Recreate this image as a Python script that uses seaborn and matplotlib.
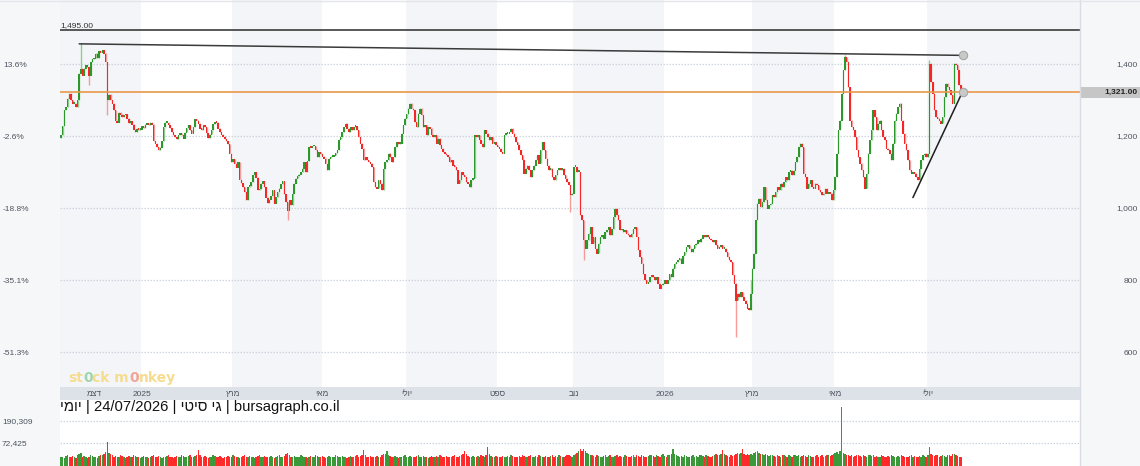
import re
import numpy as np
import pandas as pd
import matplotlib
matplotlib.use("Agg")
import matplotlib.pyplot as plt
import seaborn as sns
from matplotlib.patches import Rectangle
from matplotlib.lines import Line2D
from matplotlib.ticker import NullLocator, NullFormatter
from matplotlib.transforms import blended_transform_factory

# ---------------- data (daily closes) ----------------
first_open = 1195
close_nov24_feb25 = [
    1203, 1229, 1272, 1281, 1305, 1319, 1300, 1291, 1291, 1281, 1300, 1374, 1388, 1369, 1388,
    1397, 1393, 1369, 1406, 1414, 1416, 1430, 1418, 1436, 1432, 1439, 1430, 1406, 1300, 1316,
    1300, 1291, 1272, 1244, 1238, 1266, 1260, 1254, 1258, 1262, 1249, 1236, 1242, 1232, 1219,
    1212, 1221, 1217, 1219, 1229, 1223, 1232, 1235, 1231, 1238, 1232, 1186, 1180, 1170, 1161,
    1169, 1186, 1226, 1238, 1238, 1231, 1223, 1212, 1203, 1198, 1192, 1203, 1207, 1203, 1194,
    1210, 1223, 1231, 1217, 1207, 1226, 1247, 1244, 1235, 1221, 1217, 1231, 1225, 1208, 1195,
    1205, 1217, 1234, 1240, 1238, 1221, 1212, 1205, 1199, 1192, 1186, 1179, 1152, 1129, 1136,
]
close_mar25_jun25 = [
    1124, 1113, 1129, 1080, 1070, 1059, 1045, 1022, 1059, 1062, 1073, 1092, 1101, 1085, 1050,
    1054, 1069, 1076, 1059, 1030, 1015, 1024, 1033, 1050, 1013, 1031, 1045, 1055, 1067, 1076,
    1039, 1018, 994, 1022, 1008, 1041, 1069, 1082, 1089, 1094, 1101, 1110, 1129, 1101, 1131,
    1170, 1169, 1172, 1172, 1161, 1143, 1156, 1150, 1144, 1138, 1124, 1106, 1138, 1144, 1144,
    1146, 1154, 1161, 1191, 1198, 1212, 1226, 1235, 1221, 1212, 1226, 1217, 1226, 1228, 1217,
    1198, 1180, 1166, 1133, 1143, 1133, 1129, 1124, 1115, 1073, 1059, 1055, 1078, 1069, 1050,
    1110, 1129, 1133, 1152, 1143, 1129, 1143, 1170, 1184, 1178, 1180, 1207, 1231, 1249, 1261,
]
close_jul25_oct25 = [
    1277, 1291, 1277, 1272, 1240, 1226, 1263, 1277, 1258, 1226,
    1231, 1203, 1226, 1221, 1203, 1198, 1203, 1180, 1194, 1175,
    1166, 1156, 1152, 1147, 1143, 1129, 1133, 1119, 1115, 1106,
    1069, 1078, 1101, 1092, 1087, 1073, 1069, 1059, 1078, 1082,
    1203, 1198, 1203, 1189, 1180, 1170, 1217, 1207, 1198, 1189,
    1198, 1180, 1184, 1175, 1170, 1166, 1156, 1152, 1203, 1207,
    1207, 1212, 1221, 1207, 1198, 1184, 1175, 1161, 1147, 1133,
    1096, 1110, 1119, 1106, 1087, 1106, 1119, 1133, 1147, 1124,
    1161, 1184, 1161, 1138, 1119, 1106, 1110, 1087, 1078, 1092,
    1106, 1110, 1106, 1110, 1092, 1082, 1073, 1064, 1036, 1041,
    1115,
]
close_nov25_apr26 = [
    1115, 1101, 1101, 981, 967, 911, 888, 911, 930, 948, 902, 920, 888, 874, 902,
    920, 925, 916, 934, 939, 948, 925, 943, 976, 999, 981, 967, 939, 943, 934,
    939, 930, 925, 920, 930, 943, 948, 920, 883, 865, 846, 818, 800, 791, 795,
    809, 814, 809, 800, 809, 791, 777, 786, 791, 800, 791, 800, 818, 809, 832,
    846, 851, 856, 860, 846, 869, 879, 893, 897, 888, 879, 888, 897, 902, 911,
    906, 916, 925, 920, 925, 920, 916, 911, 906, 911, 897, 888, 893, 897, 888,
    888, 879, 865, 856, 851, 814, 791, 744, 763, 754, 768, 754, 744, 735, 721,
    717, 763, 832, 874, 967, 1013, 1027, 1004, 1018, 1059, 1022, 999, 1008, 1013, 1036,
    1031, 1045, 1059, 1050, 1069, 1059, 1073, 1087, 1078, 1101, 1105, 1092, 1105,
]
close_apr26_jul26 = [
    1129, 1143, 1170, 1180, 1170, 1096, 1087, 1055, 1069, 1078,
    1059, 1055, 1069, 1064, 1050, 1045, 1036, 1041, 1055, 1041,
    1045, 1041, 1022, 1050, 1087, 1152, 1217, 1244, 1319, 1383,
    1420, 1406, 1337, 1244, 1226, 1217, 1198, 1161, 1143, 1124,
    1106, 1087, 1055, 1096, 1152, 1189, 1217, 1272, 1254, 1217,
    1235, 1244, 1217, 1198, 1189, 1166, 1161, 1152, 1133, 1180,
    1244, 1263, 1281, 1291, 1244, 1207, 1180, 1161, 1133, 1106,
    1096, 1101, 1096, 1087, 1078, 1110, 1133, 1147, 1152, 1143,
    1152, 1402, 1351, 1319, 1272, 1254, 1249, 1244, 1235, 1254,
    1309, 1346, 1337, 1328, 1314, 1291, 1402, 1397, 1383, 1342, 1321,
]
# notable wick extremes (bar index, price)
high_idx = [12, 417, 474, 525]
high_val = [1457, 800, 1425, 1412]
low_idx = [17, 28, 137, 308, 316, 408]
low_val = [1342, 1258, 967, 990, 856, 643]

# daily volume, thousands of shares
vol_k = [
    39, 40, 38, 41, 42, 40, 39, 41, 40, 38, 43, 44, 46, 40, 41, 39, 38, 40, 42, 41, 39, 40, 38, 41, 43,
    42, 45, 48, 76, 47, 44, 42, 40, 41, 39, 40, 42, 41, 39, 38, 40, 41, 39, 40, 42, 41, 40, 39, 38, 40,
    41, 39, 40, 38, 39, 41, 42, 40, 39, 41, 40, 38, 39, 40, 41, 43, 40, 39, 38, 40, 41, 39, 40, 42, 41,
    40, 39, 41, 42, 40, 39, 41, 43, 54, 42, 40, 39, 41, 40, 38, 39, 40, 42, 41, 40, 39, 41, 40, 38, 39,
    40, 41, 39, 40, 42, 41, 40, 39, 38, 40, 41, 42, 40, 39, 41, 40, 39, 38, 40, 41, 43, 40, 39, 41, 40,
    39, 40, 41, 40, 38, 39, 41, 42, 40, 39, 41, 44, 46, 42, 40, 39, 41, 40, 39, 40, 42, 41, 39, 40, 38,
    40, 41, 39, 40, 42, 41, 40, 39, 41, 40, 38, 39, 41, 40, 39, 40, 42, 41, 40, 39, 41, 40, 39, 38, 40,
    41, 40, 39, 41, 42, 40, 41, 43, 54, 42, 40, 39, 41, 40, 39, 40, 41, 39, 40, 42, 44, 45, 52, 43, 41,
    40, 39, 41, 40, 38, 39, 40, 41, 42, 40, 39, 41, 40, 39, 40, 41, 43, 40, 39, 41, 40, 39, 38, 40, 41,
    40, 39, 41, 40, 42, 41, 40, 39, 41, 40, 39, 40, 41, 42, 40, 39, 41, 43, 45, 52, 44, 41, 40, 39, 41,
    40, 39, 41, 40, 42, 41, 40, 42, 62, 44, 41, 40, 39, 41, 40, 39, 40, 41, 40, 39, 41, 40, 42, 41, 40,
    39, 40, 41, 40, 42, 41, 39, 40, 41, 42, 40, 39, 41, 40, 42, 41, 40, 39, 41, 40, 39, 41, 42, 40, 41,
    40, 42, 41, 40, 39, 41, 43, 42, 41, 40, 42, 44, 47, 50, 55, 52, 56, 50, 47, 44, 42, 43, 41, 40, 42,
    41, 40, 39, 41, 42, 40, 41, 43, 40, 39, 41, 42, 40, 41, 39, 40, 42, 41, 40, 39, 41, 42, 40, 43, 41,
    40, 42, 41, 40, 39, 41, 42, 43, 41, 40, 42, 41, 40, 42, 44, 41, 40, 42, 43, 45, 56, 44, 42, 41, 40,
    41, 40, 42, 41, 40, 39, 41, 42, 40, 41, 40, 42, 43, 41, 40, 42, 41, 40, 39, 41, 42, 44, 43, 42, 45,
    53, 44, 42, 41, 40, 42, 41, 43, 45, 46, 44, 47, 55, 45, 43, 44, 42, 44, 43, 46, 48, 52, 47, 45, 44,
    43, 44, 42, 41, 43, 42, 41, 40, 42, 41, 40, 42, 43, 41, 40, 42, 41, 40, 42, 43, 41, 42, 40, 41, 42,
    41, 40, 42, 41, 40, 39, 41, 42, 40, 41, 42, 40, 41, 42, 43, 41, 42, 44, 46, 48, 45, 50, 350, 46, 44,
    42, 43, 41, 42, 40, 41, 42, 43, 41, 40, 42, 41, 40, 42, 43, 41, 42, 40, 41, 39, 40, 42, 41, 40, 39,
    41, 40, 42, 41, 40, 39, 41, 40, 42, 41, 40, 39, 40, 41, 42, 40, 41, 39, 40, 41, 40, 42, 41, 40, 42,
    60, 44, 42, 41, 43, 42, 40, 41, 42, 41, 40, 42, 43, 41, 44, 45, 42, 41, 40, 39,
]

# month labels (bar index of first trading day of the month)
month_pos = [20, 49, 104, 158, 209, 264, 310, 365, 418, 468, 524]
month_labels = ["דצמ", "2025", "מרץ", "מאי", "יולי", "ספט", "נוב", "2026", "מרץ", "מאי", "יולי"]

price_ticks = [1400, 1200, 1000, 800, 600]
price_labels = ["1,400", "1,200", "1,000", "800", "600"]
pct_labels = ["13.6%", "-2.6%", "-18.8%", "-35.1%", "-51.3%"]
vol_ticks = [72425, 190309]
vol_labels = ["72,425", "190,309"]

top_level = 1495
last_price = 1321
res_x, res_y = [11, 545], [1456, 1424]      # resistance trendline
sup_x, sup_y = [515, 545], [1029, 1323]     # rising support trendline

title = "יומי | 24/07/2026 | גי סיטי | bursagraph.co.il"

# ---------------- helpers ----------------
HEB = re.compile(r"[\u0590-\u05FF]+(?:[ ]+[\u0590-\u05FF]+)*")


def visual(s):
    """matplotlib has no bidi support: reverse Hebrew runs for display."""
    return HEB.sub(lambda m: m.group(0)[::-1], s)


sns.set_theme(style="white")
plt.rcParams["font.family"] = ["Liberation Sans", "DejaVu Sans"]

W, H = 1140, 466
fig = plt.figure(figsize=(W / 100, H / 100), dpi=100, facecolor="#f6f7f9")


def box(x0, y0, x1, y1):
    return [x0 / W, 1 - y1 / H, (x1 - x0) / W, (y1 - y0) / H]


ax = fig.add_axes(box(60, 0, 1080, 387))
axb = fig.add_axes(box(60, 387, 1080, 400), sharex=ax)
axv = fig.add_axes(box(60, 400, 1080, 466), sharex=ax)

close = np.array(close_nov24_feb25 + close_mar25_jun25 + close_jul25_oct25
                 + close_nov25_apr26 + close_apr26_jul26, dtype=float)
n = len(close)
idx = np.arange(n)
opn = np.concatenate([[first_open], close[:-1]])
high = np.maximum(opn, close)
low = np.minimum(opn, close)
for i, v in zip(high_idx, high_val):
    high[i] = max(high[i], v)
for i, v in zip(low_idx, low_val):
    low[i] = min(low[i], v)
up = close >= opn

df = pd.DataFrame({
    "idx": idx, "open": opn, "close": close, "high": high, "low": low,
    "vol": np.array(vol_k) * 1000, "dir": np.where(up, "up", "down"),
})

GREEN, RED = "#2c982c", "#f42626"
GREEN_L, RED_L = "#8fcd8f", "#f79a9a"
TXT = "#4d5560"
GRID = "#cfd5de"
GRID_LS = (0, (1.2, 1.2))

xl = (-0.6, n - 1 + 72)
ylim = (502.8, 1577.8)

# alternating two-month background bands
edges = [xl[0]] + [p - 0.5 for p in month_pos[1:]] + [xl[1]]
for i in range(0, len(edges) - 1, 2):
    ax.axvspan(edges[i], edges[i + 1], color="#f4f5f8", lw=0, zorder=0)

ax.set_facecolor("white")
ax.set_yticks(price_ticks)
ax.grid(axis="y", color=GRID, ls=GRID_LS, lw=0.9)
ax.grid(axis="x", visible=False)

# candles
ax.vlines(df["idx"], df["low"], df["high"],
          colors=np.where(up, GREEN_L, RED_L), lw=1, zorder=2)
ax.bar(df["idx"], np.maximum(np.abs(close - opn), 5), bottom=np.minimum(opn, close) - 1,
       width=0.9, color=np.where(up, GREEN, RED), lw=0, zorder=3)

# reference lines
ax.axhline(top_level, color="#3c3c3c", lw=1.2, zorder=4)
ax.axhline(last_price, color="#e8984a", lw=1.2, zorder=4)
ax.plot(res_x, res_y, color="#3a3a3a", lw=1.1, zorder=5)
ax.plot(sup_x, sup_y, color="#1e1e1e", lw=1.1, zorder=5)
ax.plot([res_x[-1], sup_x[-1]], [res_y[-1], sup_y[-1]], "o", ms=6,
        mfc="#c9c9c9", mec="#a6a6a6", mew=0.8, zorder=6, ls="none")

tr = blended_transform_factory(ax.transAxes, ax.transData)
ax.text(0.0, top_level + 3, f"{top_level:,.2f}", transform=tr, ha="left", va="bottom",
        fontsize=6, color="#333333")
ax.add_patch(Rectangle((1.0, last_price - 16.5), 60 / 1020, 33, transform=tr,
                       clip_on=False, color="#c6c6c6", lw=0, zorder=6))
ax.text((1138 - 60) / 1020, last_price, f"{last_price:,.2f}", transform=tr,
        ha="right", va="center", fontsize=6, fontweight="bold", color="#222222", zorder=7)

ax.set_xlim(xl)
ax.set_ylim(ylim)

# left percentage axis
ax2 = ax.twinx()
ax2.set_ylim(ylim)
ax2.set_yticks(price_ticks, pct_labels)
ax2.yaxis.tick_left()
ax.yaxis.tick_right()
ax2.tick_params(axis="y", length=0, pad=41.0, labelsize=6, labelcolor=TXT)
for t in ax2.get_yticklabels():
    t.set_horizontalalignment("left")
ax2.grid(False)

ax.set_yticks(price_ticks, price_labels)
ax.tick_params(axis="y", length=0, pad=41.8, labelsize=6, labelcolor=TXT)
for t in ax.get_yticklabels():
    t.set_horizontalalignment("right")

# month band
axb.set_facecolor("#dde1e8")
axb.set_ylim(0, 1)
axb.set_yticks([])
for p, lab in zip(month_pos, month_labels):
    axb.text(p, 0.45, visual(lab), ha="center", va="center", fontsize=6, color=TXT)

# volume
sns.barplot(data=df, x="idx", y="vol", hue="dir",
            palette={"up": "#3a9a3a", "down": "#ff2b2b"},
            native_scale=True, dodge=False, width=0.85, errorbar=None,
            legend=False, saturation=1, linewidth=0, ax=axv)
axv.set_yscale("log")
axv.set_ylim(26380, 479700)
axv.set_yticks(vol_ticks, vol_labels)
axv.yaxis.set_minor_locator(NullLocator())
axv.yaxis.set_minor_formatter(NullFormatter())
axv.set_facecolor("white")
axv.grid(axis="y", which="major", color=GRID, ls=GRID_LS, lw=0.9)
axv.grid(axis="x", visible=False)
axv.set_xlabel("")
axv.set_ylabel("")
axv.tick_params(axis="y", length=0, pad=41.8, labelsize=6, labelcolor=TXT)
for t in axv.get_yticklabels():
    t.set_horizontalalignment("left")

for a in (ax, ax2, axb, axv):
    for s in a.spines.values():
        s.set_visible(False)
    a.tick_params(axis="x", bottom=False, labelbottom=False, top=False, labeltop=False)
ax.set_xlim(xl)

# title line
fig.text(60 / W, (H - 411.5) / H, visual(title), ha="left", va="baseline",
         fontsize=10.6, color="#111111")

# watermark
YEL = "#f5dc8e"
wm = [("st", YEL), ("0", "#9fd6ae"), ("ck m", YEL), ("0", "#f1a596"), ("nkey", YEL)]
prev = fig.text(68 / W, (H - 382) / H, wm[0][0], fontsize=10, fontweight="bold",
                color=wm[0][1], va="baseline", ha="left", family="DejaVu Sans")
for s, c in wm[1:]:
    prev = ax.annotate(s, xy=(1, 0), xycoords=prev, ha="left", va="bottom",
                       fontsize=10, fontweight="bold", color=c, family="DejaVu Sans",
                       annotation_clip=False)

# frame lines
fig.add_artist(Line2D([1080 / W, 1080 / W], [0, 1], transform=fig.transFigure,
                      color="#d9dde3", lw=1))
fig.add_artist(Line2D([0, 1], [1 - 0.5 / H, 1 - 0.5 / H], transform=fig.transFigure,
                      color="#e2e5ea", lw=1))

fig.savefig("out.png", dpi=100, facecolor=fig.get_facecolor())
